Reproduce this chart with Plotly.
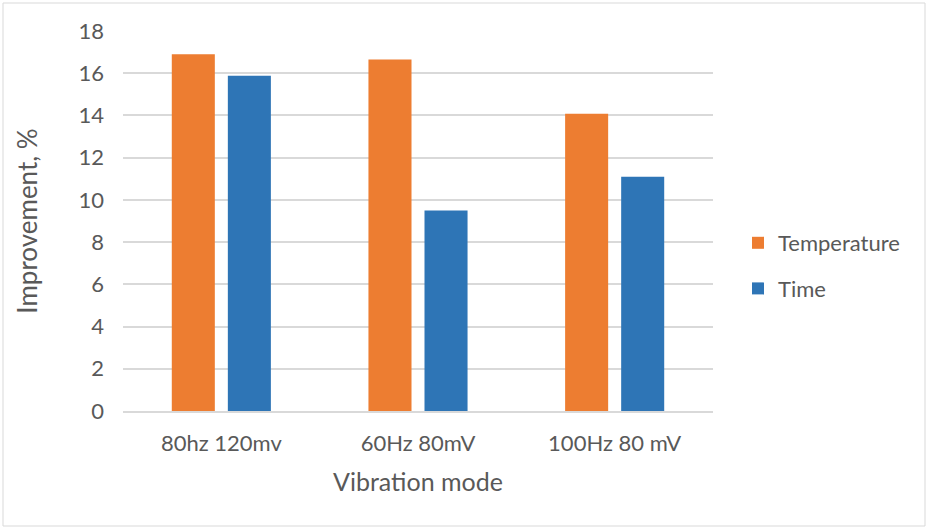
import plotly.graph_objects as go

categories = ["80hz 120mv", "60Hz 80mV", "100Hz 80 mV"]
temperature = [16.9, 16.65, 14.08]
time_vals = [15.88, 9.5, 11.1]
y_ticks = [0, 2, 4, 6, 8, 10, 12, 14, 16, 18]

W, H = 928, 529
L, R, T, B = 123, 215, 31, 118
pw, ph = W - L - R, H - T - B

def px_x(p):
    return (p - L) / pw

def px_y(p):
    return (H - B - p) / ph

font = "Lato, Carlito, Calibri, sans-serif"
txt = "#595959"

fig = go.Figure()
fig.add_trace(go.Bar(name="Temperature", x=categories, y=temperature,
                     marker=dict(color="#ED7D31", line=dict(width=0)),
                     legendgroup="a"))
fig.add_trace(go.Bar(name="Time", x=categories, y=time_vals,
                     marker=dict(color="#2E75B6", line=dict(width=0)),
                     legendgroup="b"))

fig.update_layout(
    width=W, height=H,
    margin=dict(l=L, r=R, t=T, b=B),
    paper_bgcolor="white", plot_bgcolor="white",
    barmode="group", bargap=0.43, bargroupgap=0.232,
    font=dict(family=font, color=txt, size=22),
    showlegend=True,
    legend=dict(x=px_x(738), y=px_y(222), xanchor="left", yanchor="top",
                font=dict(size=22, color=txt), tracegroupgap=14,
                traceorder="grouped", itemwidth=30, bgcolor="rgba(0,0,0,0)"),
    xaxis=dict(title=dict(text="Vibration mode", font=dict(size=25, color=txt), standoff=18),
               showgrid=False, showline=True, linecolor="#D9D9D9", linewidth=1.5,
               ticks="", ticklabelstandoff=12, tickfont=dict(size=22, color=txt)),
    yaxis=dict(title=dict(text="Improvement, %", font=dict(size=26, color=txt), standoff=33),
               range=[0, 18], tickvals=y_ticks, showgrid=True, gridcolor="#D9D9D9",
               gridwidth=1.5, zeroline=False, showline=False, ticks="",
               ticklabelstandoff=18, tickfont=dict(size=22, color=txt)),
)

fig.add_shape(type="rect", xref="paper", yref="paper",
              x0=px_x(3), x1=px_x(925), y0=px_y(526), y1=px_y(3),
              line=dict(color="#D9D9D9", width=1), layer="below")

fig.write_html("out.html")
